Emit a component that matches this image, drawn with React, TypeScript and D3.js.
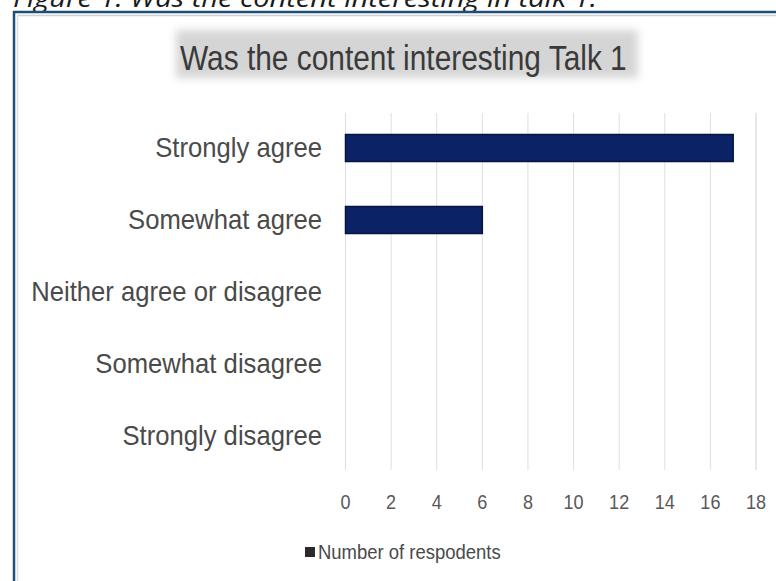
import React from "react";
import * as d3 from "d3";

const categories = [
  "Strongly agree",
  "Somewhat agree",
  "Neither agree or disagree",
  "Somewhat disagree",
  "Strongly disagree",
];
const respondents = [17, 6, 0, 0, 0];
const xTicks = [0, 2, 4, 6, 8, 10, 12, 14, 16, 18];
const chartTitle = "Was the content interesting Talk 1";
const caption = "Figure 1: Was the content interesting in talk 1.";
const seriesName = "Number of respodents";

const W = 776;
const H = 581;

export default function App() {
  const x = d3.scaleLinear().domain([0, 18]).range([345.5, 756]);
  const y = d3
    .scaleBand<string>()
    .domain(categories)
    .range([112, 472])
    .paddingInner(0.625)
    .paddingOuter(0.3125);
  const font = "'Liberation Sans', Arial, sans-serif";

  return (
    <svg
      width={W}
      height={H}
      style={{ position: "absolute", left: 0, top: 0, background: "#fff" }}
    >
      <defs>
        <filter id="blur" x="-20%" y="-50%" width="140%" height="200%">
          <feGaussianBlur stdDeviation="4" />
        </filter>
      </defs>
      <rect x={0} y={0} width={W} height={H} fill="#ffffff" />
      {/* caption */}
      <text
        x={13}
        y={7}
        fontFamily="'Open Sans', 'Liberation Sans', sans-serif"
        fontStyle="italic"
        fontSize={25}
        fill="#1a1a1a"
        textLength={584}
        lengthAdjust="spacingAndGlyphs"
      >
        {caption}
      </text>
      {/* frame */}
      <line x1={13} x2={W} y1={12} y2={12} stroke="#1f4e79" strokeWidth={2.5} />
      <line x1={14} x2={14} y1={11} y2={H} stroke="#1f4e79" strokeWidth={2.5} />
      <line x1={17} x2={W} y1={15.5} y2={15.5} stroke="#d0d0d0" strokeWidth={1.5} />
      <line x1={17.5} x2={17.5} y1={15} y2={H} stroke="#e0e0e0" strokeWidth={1.5} />

      {/* title shadow box */}
      <rect
        x={176}
        y={30}
        width={462}
        height={48}
        fill="#c8c8c8"
        opacity={0.75}
        filter="url(#blur)"
      />
      <g transform={`translate(180,70) scale(0.83,1)`}>
        <text x={0} y={0} fontFamily={font} fontSize={36} fill="#3a3a3a">
          {chartTitle}
        </text>
      </g>

      {/* gridlines */}
      {xTicks.map((t) => (
        <line
          key={"g" + t}
          x1={x(t)}
          x2={x(t)}
          y1={113}
          y2={470}
          stroke={t === 18 ? "#cfcfcf" : "#dedede"}
          strokeWidth={1}
        />
      ))}

      {/* bars */}
      {categories.map((c, i) =>
        respondents[i] > 0 ? (
          <rect
            key={"b" + c}
            x={x(0)}
            y={y(c)!}
            width={x(respondents[i]) - x(0)}
            height={y.bandwidth()}
            fill="#0c2266"
            stroke="#061540"
            strokeWidth={1.5}
          />
        ) : null
      )}

      {/* category labels */}
      {categories.map((c) => (
        <g
          key={"l" + c}
          transform={`translate(322,${y(c)! + y.bandwidth() / 2 + 9}) scale(0.95,1)`}
        >
          <text
            x={0}
            y={0}
            textAnchor="end"
            fontFamily={font}
            fontSize={27}
            fill="#4a4a4a"
          >
            {c}
          </text>
        </g>
      ))}

      {/* tick labels */}
      {xTicks.map((t) => (
        <g key={"t" + t} transform={`translate(${x(t)},509) scale(0.86,1)`}>
          <text
            x={0}
            y={0}
            textAnchor="middle"
            fontFamily={font}
            fontSize={21}
            fill="#595959"
          >
            {t}
          </text>
        </g>
      ))}

      {/* legend */}
      <rect x={305} y={547} width={10} height={10} fill="#2a2a2a" />
      <g transform={`translate(318,559) scale(0.88,1)`}>
        <text x={0} y={0} fontFamily={font} fontSize={21} fill="#4a4a4a">
          {seriesName}
        </text>
      </g>
    </svg>
  );
}
